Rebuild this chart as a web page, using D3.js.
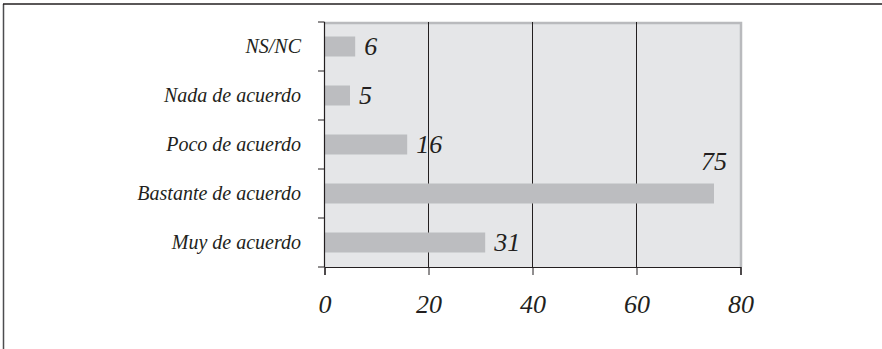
<!DOCTYPE html>
<html>
<head>
<meta charset="utf-8">
<script src="https://cdn.jsdelivr.net/npm/d3@7"></script>
<style>
  html, body { margin: 0; padding: 0; background: #fff; }
  svg { display: block; }
  text { font-family: "Liberation Serif", "Times New Roman", serif; font-style: italic; fill: #231f20; }
</style>
</head>
<body>
<svg id="chart" width="882" height="349"></svg>
<script>
// Survey answers, top to bottom as listed on the chart
const categories = ["NS/NC", "Nada de acuerdo", "Poco de acuerdo", "Bastante de acuerdo", "Muy de acuerdo"];
const values = [6, 5, 16, 75, 31];
const xTicks = [0, 20, 40, 60, 80];

const W = 882, H = 349;
const plot = { left: 324, right: 741, top: 22, bottom: 267 };

const svg = d3.select("#chart");

// outer frame: left and top rules only
svg.append("line").attr("x1", 3.5).attr("x2", 3.5).attr("y1", 4).attr("y2", H)
  .attr("stroke", "#4d4d4f").attr("stroke-width", 1.5);
svg.append("line").attr("x1", 3).attr("x2", W).attr("y1", 4).attr("y2", 4)
  .attr("stroke", "#231f20").attr("stroke-width", 1.5);

const x = d3.scaleLinear().domain([0, 80]).range([plot.left, plot.right - 1]);
const yBand = d3.scaleBand().domain(categories).range([plot.top, plot.bottom]);

// plot background
svg.append("rect")
  .attr("x", plot.left).attr("y", plot.top)
  .attr("width", plot.right - plot.left).attr("height", plot.bottom - plot.top)
  .attr("fill", "#e5e6e8");
// grey frame on top and right
svg.append("path")
  .attr("d", `M${plot.left},${plot.top + 1}H${plot.right}V${plot.bottom}`)
  .attr("fill", "none").attr("stroke", "#b9babd").attr("stroke-width", 2.5);

// vertical grid lines
svg.append("g").selectAll("line").data(xTicks.filter(t => t > 0 && t < 80)).join("line")
  .attr("x1", d => x(d) + 0.5).attr("x2", d => x(d) + 0.5)
  .attr("y1", plot.top).attr("y2", plot.bottom)
  .attr("stroke", "#231f20").attr("stroke-width", 1);

// bars
svg.append("g").selectAll("rect").data(categories).join("rect")
  .attr("x", x(0) + 1)
  .attr("y", (d) => yBand(d) + yBand.bandwidth() / 2 - 10)
  .attr("height", 20)
  .attr("width", (d, i) => x(values[i]) - x(0) - 1)
  .attr("fill", "#bcbdc0");

// x axis
const xAxis = d3.axisBottom(x).tickValues(xTicks).tickSize(8).tickPadding(20).tickFormat(d3.format("d"));
const gx = svg.append("g").attr("transform", `translate(0.5,${plot.bottom})`).call(xAxis);
gx.select(".domain").attr("stroke", "#231f20").attr("stroke-width", 1.2);
gx.selectAll(".tick line").attr("stroke", "#231f20");
gx.selectAll(".tick text").attr("font-size", 26).attr("font-family", null).attr("fill", null);

// y axis with ticks between categories
svg.append("line").attr("x1", plot.left + 0.5).attr("x2", plot.left + 0.5)
  .attr("y1", plot.top).attr("y2", plot.bottom)
  .attr("stroke", "#231f20").attr("stroke-width", 1.2);
const bounds = categories.map(c => yBand(c)).concat([plot.bottom]);
svg.append("g").selectAll("line").data(bounds).join("line")
  .attr("x1", plot.left - 6).attr("x2", plot.left + 0.5)
  .attr("y1", d => d).attr("y2", d => d)
  .attr("stroke", "#231f20").attr("stroke-width", 1);

// category labels
svg.append("g").selectAll("text").data(categories).join("text")
  .attr("x", 301)
  .attr("y", d => yBand(d) + yBand.bandwidth() / 2)
  .attr("dy", "0.33em")
  .attr("text-anchor", "end")
  .attr("font-size", 20)
  .text(d => d);

// value labels: right of the bar, except the longest which sits above its end
const vmax = d3.max(values);
svg.append("g").selectAll("text").data(categories).join("text")
  .attr("x", (d, i) => values[i] === vmax ? x(values[i]) : x(values[i]) + 9)
  .attr("y", (d, i) => yBand(d) + yBand.bandwidth() / 2 + (values[i] === vmax ? -32 : 0))
  .attr("dy", "0.33em")
  .attr("text-anchor", (d, i) => values[i] === vmax ? "middle" : "start")
  .attr("font-size", 26)
  .text((d, i) => values[i]);
</script>
</body>
</html>
